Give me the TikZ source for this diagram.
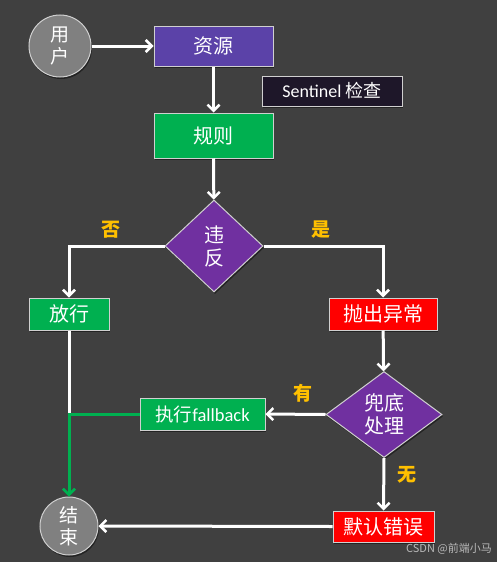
\documentclass[tikz,border=0pt]{standalone}
\usepackage{fontspec}
\setmainfont{Carlito}
\newfontfamily\cjk{Noto Sans CJK SC}
\usetikzlibrary{arrows.meta,shapes.geometric,shadows}
\definecolor{bgc}{HTML}{404040}
\definecolor{edgec}{HTML}{D0D0D0}
\definecolor{resc}{HTML}{5B42A8}
\definecolor{diac}{HTML}{7030A0}
\definecolor{grnc}{HTML}{00B050}
\definecolor{redc}{HTML}{FF0000}
\definecolor{grayc}{HTML}{808080}
\definecolor{darkc}{HTML}{1E1729}
\definecolor{lblc}{HTML}{FFC000}
\tikzset{
  shd/.style={drop shadow={shadow xshift=1pt,shadow yshift=-2pt,opacity=0.45,fill=black}},
  boxn/.style={rectangle,draw=edgec,line width=1pt,text=white,inner sep=0pt,
    font=\cjk\fontsize{20}{23}\selectfont,shd},
  circn/.style={circle,draw=edgec,line width=1pt,fill=grayc,text=white,inner sep=0pt,
    align=center,font=\cjk\fontsize{19}{22}\selectfont,shd},
  dian/.style={diamond,draw=edgec,line width=1pt,fill=diac,text=white,inner sep=0pt,
    align=center,font=\cjk\fontsize{20}{23}\selectfont,shd},
  conn/.style={draw=white,line width=3pt,-{Straight Barb[length=6pt,width=12pt,line width=2.5pt]}},
  lbl/.style={text=lblc,font=\cjk\bfseries\fontsize{19}{22}\selectfont},
}
\begin{document}
\begin{tikzpicture}[x=1pt,y=-1pt]
\fill[bgc] (0,0) rectangle (497,562);
\useasboundingbox (0,0) rectangle (497,562);

\node[circn,minimum size=62pt] (user) at (60,46) {用\\户};
\node[boxn,fill=resc,minimum width=119pt,minimum height=40pt] (res) at (213.5,46) {资源};
\node[boxn,fill=darkc,minimum width=140pt,minimum height=30pt,font=\fontsize{18}{21}\selectfont] (sen) at (332,91) {Sentinel {\cjk 检查}};
\node[boxn,fill=grnc,minimum width=119pt,minimum height=45pt] (rule) at (213.5,135.5) {规则};
\node[dian,minimum width=98pt,minimum height=92pt] (d1) at (214,246) {违\\反};
\node[boxn,fill=grnc,minimum width=80pt,minimum height=32pt] (fang) at (69,314) {放行};
\node[boxn,fill=redc,minimum width=108pt,minimum height=32pt] (thr) at (383,314) {抛出异常};
\node[dian,minimum width=116pt,minimum height=86pt] (d2) at (384,414.5) {兜底\\处理};
\node[boxn,fill=grnc,minimum width=125pt,minimum height=32pt,font=\fontsize{18.5}{21}\selectfont] (fb) at (202.5,414) {{\cjk 执行}fallback};
\node[circn,minimum size=58pt] (end) at (69,526) {结\\束};
\node[boxn,fill=redc,minimum width=101pt,minimum height=31pt] (def) at (383.5,526.5) {默认错误};

\node[lbl] (lno) at (111,230) {否};
\node[lbl] (lyes) at (321,230) {是};
\node[lbl] (lhas) at (303,393) {有};
\node[lbl] (lnone) at (407,475) {无};
\node[text=grayc!55!white,font=\cjk\fontsize{11}{13}\selectfont] (wm) at (449,549) {CSDN @前端小马};

\coordinate (j) at (69,414);

\draw[conn] (user) -- (res);
\draw[conn] (res) -- (rule);
\draw[conn] (rule) -- (d1);
\draw[conn] (d1.west) -| (fang.north);
\draw[conn] (d1.east) -| (thr.north);
\draw[conn] (thr) -- (d2);
\draw[conn] (d2.west) -- (fb.east);
\draw[conn] (d2.south) -- (def.north);
\draw[conn] (def.west) -- (end.east);
\draw[draw=white,line width=3pt] (fang.south) -- (j);
\draw[conn,draw=grnc,-{Straight Barb[length=6pt,width=12pt,line width=2.5pt]}] (fb.west) -- (j) -- (end.north);
\end{tikzpicture}
\end{document}
